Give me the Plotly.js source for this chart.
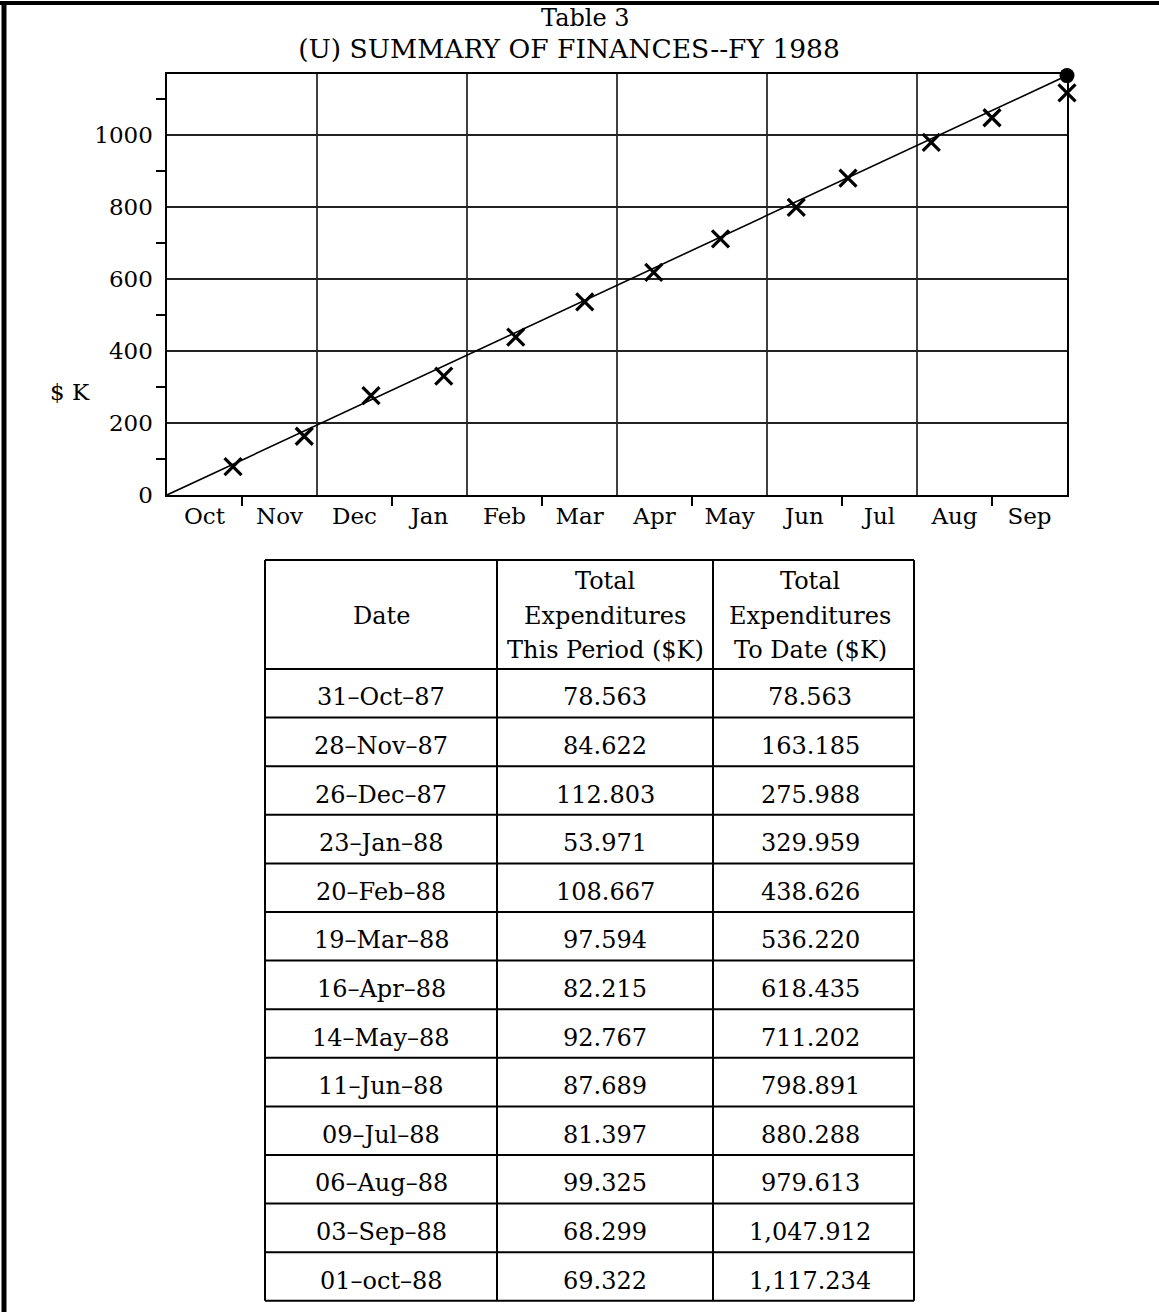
<!DOCTYPE html>
<html>
<head>
<meta charset="utf-8">
<script src="https://cdn.plot.ly/plotly-3.0.1.min.js"></script>
<style>
  html, body { margin: 0; padding: 0; background: #ffffff; }
  #chart { width: 1159px; height: 1312px; }
</style>
</head>
<body>
<div id="chart"></div>
<script>
// ---------------- data ----------------
const monthLabels = ['Oct', 'Nov', 'Dec', 'Jan', 'Feb', 'Mar', 'Apr', 'May', 'Jun', 'Jul', 'Aug', 'Sep'];
const periodDates = ['31–Oct–87', '28–Nov–87', '26–Dec–87', '23–Jan–88', '20–Feb–88', '19–Mar–88',
                     '16–Apr–88', '14–May–88', '11–Jun–88', '09–Jul–88', '06–Aug–88', '03–Sep–88', '01–oct–88'];
// position of each period end on the month axis (months since 1 Oct), as plotted
const periodMonth = [0.88, 1.83, 2.72, 3.69, 4.65, 5.57, 6.49, 7.38, 8.39, 9.08, 10.19, 11.0, 12.0];
const thisPeriod = [78.563, 84.622, 112.803, 53.971, 108.667, 97.594, 82.215, 92.767, 87.689, 81.397, 99.325, 68.299, 69.322];
const toDate = [78.563, 163.185, 275.988, 329.959, 438.626, 536.220, 618.435, 711.202, 798.891, 880.288, 979.613, 1047.912, 1117.234];
// planned (straight-line) spending
const planMonth = [0, 12];
const planValue = [0, 1165];
const tableHeaders = [['Date'], ['Total', 'Expenditures', 'This Period ($K)'], ['Total', 'Expenditures', 'To Date ($K)']];

// ---------------- helpers ----------------
const W = 1159, H = 1312;
const px = v => v / W;
const py = v => 1 - v / H;
function fmt(n) {
  const s = n.toFixed(3);
  const parts = s.split('.');
  parts[0] = parts[0].replace(/\B(?=(\d{3})+(?!\d))/g, ',');
  return parts.join('.');
}
const FONT = 'DejaVu Serif';

// ---------------- plot geometry ----------------
const plotLeft = 167, plotRight = 1067, plotTop = 74, plotBottom = 495;
const yMax = (plotBottom - plotTop) / 0.36;

// ---------------- traces ----------------
const traces = [
  {
    x: planMonth, y: planValue, type: 'scatter', mode: 'lines',
    line: { color: '#000', width: 1.6 }, hoverinfo: 'skip', showlegend: false
  },
  {
    x: [planMonth[planMonth.length - 1]], y: [planValue[planValue.length - 1]],
    type: 'scatter', mode: 'markers', cliponaxis: false,
    marker: { symbol: 'circle', size: 15, color: '#000' }, showlegend: false
  },
  {
    x: periodMonth, y: toDate, type: 'scatter', mode: 'markers', cliponaxis: false,
    marker: { symbol: 'x-thin-open', size: 17, color: '#000', line: { color: '#000', width: 3.2 } },
    showlegend: false
  }
];

// ---------------- shapes ----------------
const shapes = [];
for (let m = 2; m < 12; m += 2) {
  shapes.push({ type: 'line', xref: 'x', yref: 'y domain', x0: m, x1: m, y0: 0, y1: 1,
                line: { color: '#111', width: 1.6 }, layer: 'below' });
}
// page frame (top and left rules)
shapes.push({ type: 'line', xref: 'paper', yref: 'paper', x0: 0, x1: 1, y0: py(3), y1: py(3),
              line: { color: '#000', width: 4 } });
shapes.push({ type: 'line', xref: 'paper', yref: 'paper', x0: px(4), x1: px(4), y0: py(2), y1: 0,
              line: { color: '#000', width: 5 } });

// table geometry
const colEdges = [265, 497, 713, 914];
const colCenters = [381, 605, 810];
const tTop = 560, hBottom = 669, rowH = 48.6;
const tBottom = hBottom + rowH * periodDates.length;
colEdges.forEach(xv => {
  shapes.push({ type: 'line', xref: 'paper', yref: 'paper', x0: px(xv), x1: px(xv), y0: py(tTop), y1: py(tBottom),
                line: { color: '#000', width: 2 } });
});
const hLines = [tTop, hBottom];
for (let i = 1; i <= periodDates.length; i++) hLines.push(hBottom + rowH * i);
hLines.forEach(yv => {
  shapes.push({ type: 'line', xref: 'paper', yref: 'paper', x0: px(colEdges[0]), x1: px(colEdges[3]), y0: py(yv), y1: py(yv),
                line: { color: '#000', width: 2 } });
});

// ---------------- annotations ----------------
const TF = { family: FONT, size: 24, color: '#000' };
const annotations = [];
annotations.push({ xref: 'paper', yref: 'paper', x: px(70), y: py(392), text: '$ K', showarrow: false,
                   xanchor: 'center', yanchor: 'middle', font: { family: FONT, size: 23, color: '#000' } });
// title first line
annotations.push({ xref: 'paper', yref: 'paper', x: px(585), y: py(18), text: 'Table 3', showarrow: false,
                   xanchor: 'center', yanchor: 'middle', font: { family: FONT, size: 24, color: '#000' } });
// header cells
const headerMid = (tTop + hBottom) / 2 + 1, headerLine = 34.5;
tableHeaders.forEach((lines, j) => {
  lines.forEach((t, k) => {
    const yc = headerMid + (k - (lines.length - 1) / 2) * headerLine;
    annotations.push({ xref: 'paper', yref: 'paper', x: px(colCenters[j]), y: py(yc),
                       text: t, showarrow: false, xanchor: 'center', yanchor: 'middle', font: TF });
  });
});
// body cells
periodDates.forEach((d, i) => {
  const yc = py(hBottom + rowH * (i + 0.5) + 4);
  const row = [d, fmt(thisPeriod[i]), fmt(toDate[i])];
  row.forEach((t, j) => {
    annotations.push({ xref: 'paper', yref: 'paper', x: px(colCenters[j]), y: yc, text: t, showarrow: false,
                       xanchor: 'center', yanchor: 'middle', font: TF });
  });
});

// ---------------- layout ----------------
const layout = {
  width: W, height: H, autosize: false,
  margin: { l: 0, r: 0, t: 0, b: 0 },
  paper_bgcolor: '#fff', plot_bgcolor: '#fff',
  font: { family: FONT, color: '#000' },
  title: {
    text: '(U) SUMMARY OF FINANCES--FY 1988',
    x: px(569), xanchor: 'center', y: py(49), yanchor: 'middle', yref: 'container',
    font: { family: FONT, size: 26.5, color: '#000' }
  },
  xaxis: {
    domain: [px(plotLeft), px(plotRight)], range: [0, 12],
    tickmode: 'array', tickvals: monthLabels.map((_, i) => i + 0.5), ticktext: monthLabels,
    ticks: '', showgrid: false, zeroline: false,
    showline: true, mirror: true, linecolor: '#000', linewidth: 1.6,
    tickfont: { family: FONT, size: 23, color: '#000' },
    minor: { tickmode: 'array', tickvals: [1, 3, 5, 7, 9, 11], ticks: 'outside', ticklen: 9,
             tickwidth: 1.6, tickcolor: '#000', showgrid: false },
    fixedrange: true
  },
  yaxis: {
    domain: [py(plotBottom), py(plotTop)], range: [0, yMax],
    tick0: 0, dtick: 200, ticks: '', showgrid: true, gridcolor: '#222', gridwidth: 1.3,
    zeroline: false, showline: true, mirror: true, linecolor: '#000', linewidth: 1.6,
    ticklabelstandoff: 8,
    tickfont: { family: FONT, size: 23, color: '#000' },
    minor: { dtick: 100, ticks: 'outside', ticklen: 9, tickwidth: 1.6, tickcolor: '#000', showgrid: false },
    fixedrange: true
  },
  shapes: shapes,
  annotations: annotations,
  showlegend: false
};

Plotly.newPlot('chart', traces, layout, { staticPlot: true, displayModeBar: false });
</script>
</body>
</html>
